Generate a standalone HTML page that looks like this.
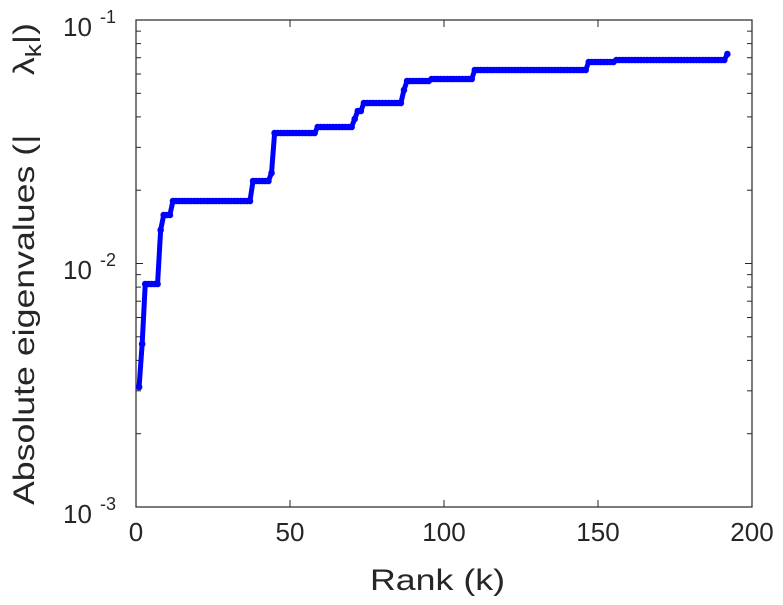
<!DOCTYPE html><html><head><style>body{margin:0;background:#fff}svg{font-family:"Liberation Sans",sans-serif}</style></head><body>
<svg id="s" width="783" height="600" xmlns="http://www.w3.org/2000/svg">
<rect x="136" y="20" width="616" height="487" fill="#fff" stroke="#262626" stroke-width="1.2"/>
<g id="t" stroke="#262626" stroke-width="1"></g>
<g font-size="26" fill="#262626" text-anchor="middle">
<text x="136" y="541">0</text><text x="290" y="541">50</text><text x="444" y="541">100</text><text x="598" y="541">150</text><text x="752" y="541">200</text>
</g>
<text x="370" y="590" font-size="30" fill="#262626" textLength="135" lengthAdjust="spacingAndGlyphs">Rank (k)</text>
<g font-size="26" fill="#262626">
<text x="63" y="36">10</text><text x="100" y="23" font-size="18">-1</text>
<text x="63" y="279">10</text><text x="100" y="266" font-size="18">-2</text>
<text x="63" y="523">10</text><text x="100" y="510" font-size="18">-3</text>
</g>
<text transform="translate(34,505) rotate(-90)" font-size="30" fill="#262626" textLength="482" lengthAdjust="spacingAndGlyphs">Absolute eigenvalues (|&#160;&#160;&#160;&#160;&#160;&#160;λ<tspan font-size="22" dy="7">k</tspan><tspan dy="-7">|)</tspan></text>
<polyline id="p" fill="none" stroke="#0000ff" stroke-width="5" stroke-linejoin="round"/>
<g id="m" fill="#0000ff"></g>
</svg>
<script>
var t=document.getElementById('t'),h='';
for(var d=0;d<2;d++)for(var i=2;i<=9;i++){var y=20+243.5*(d+1)-243.5*Math.log10(i);h+='<line x1="136" x2="141" y1="'+y+'" y2="'+y+'"/><line x1="752" x2="747" y1="'+y+'" y2="'+y+'"/>';}
[20,263.5].forEach(function(y){h+='<line x1="136" x2="143" y1="'+y+'" y2="'+y+'"/><line x1="752" x2="745" y1="'+y+'" y2="'+y+'"/>';});
[50,100,150].forEach(function(k){var x=136+k*3.08;h+='<line x1="'+x+'" x2="'+x+'" y1="507" y2="500"/><line x1="'+x+'" x2="'+x+'" y1="20" y2="27"/>';});
t.innerHTML=h;
var seg=[[1,1,387],[2,2,344],[3,7,284],[8,8,230],[9,11,215],[12,37,201],[38,43,181],[44,44,173],[45,58,133],[59,70,127],[71,71,119],[72,73,111],[74,86,103],[87,87,90],[88,95,81],[96,109,79],[110,146,70],[147,155,62],[156,191,60],[192,192,54]];
var pts=[],m='';
seg.forEach(function(s){for(var k=s[0];k<=s[1];k++){var x=136+k*3.08;pts.push(x+','+s[2]);m+='<circle cx="'+x+'" cy="'+s[2]+'" r="3.3"/>';}});
document.getElementById('p').setAttribute('points',pts.join(' '));
document.getElementById('m').innerHTML=m;
</script>
</body></html>
